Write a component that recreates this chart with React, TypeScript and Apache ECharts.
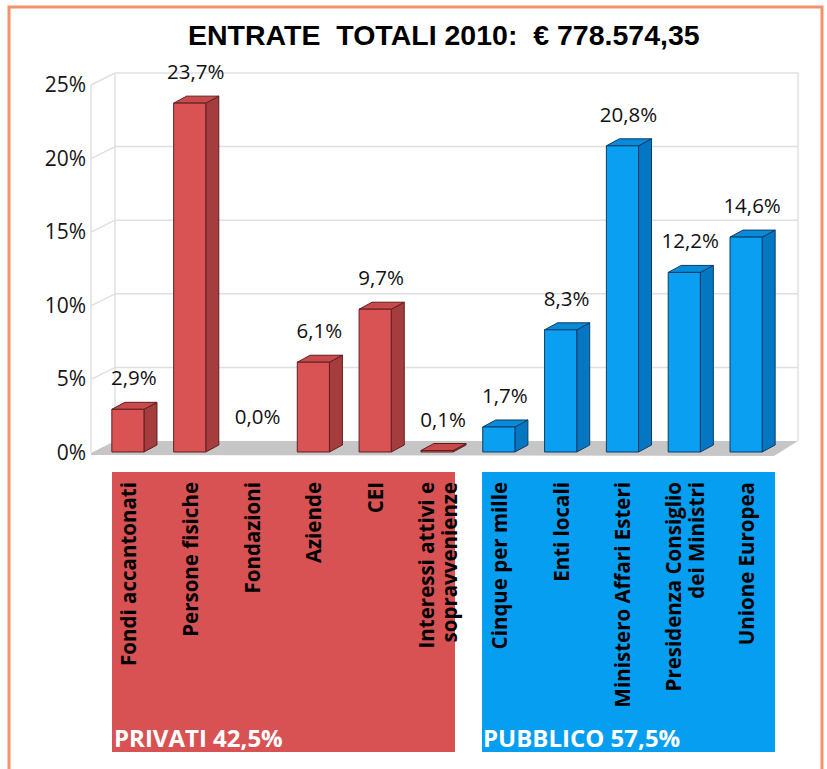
import React, { useEffect, useRef } from "react";
import * as echarts from "echarts";

const titleText = "ENTRATE  TOTALI 2010:  € 778.574,35";
const categories = [
  "Fondi accantonati",
  "Persone fisiche",
  "Fondazioni",
  "Aziende",
  "CEI",
  "Interessi attivi e\nsopravvenienze",
  "Cinque per mille",
  "Enti locali",
  "Ministero Affari Esteri",
  "Presidenza Consiglio\ndei Ministri",
  "Unione Europea",
];
const shares = [2.9, 23.7, 0.0, 6.1, 9.7, 0.1, 1.7, 8.3, 20.8, 12.2, 14.6];
const sectors = [0, 0, 0, 0, 0, 0, 1, 1, 1, 1, 1];
const yTicks = [0, 5, 10, 15, 20, 25];
const groupLabels = ["PRIVATI 42,5%", "PUBBLICO 57,5%"];

const palette = [
  { front: "#d95354", side: "#a53d3e", top: "#c84a4b", stroke: "#5e1f1f", box: "#d85254" },
  { front: "#0a9ff0", side: "#0577c2", top: "#0a8bd9", stroke: "#0c3d66", box: "#069ef0" },
];

const FONT = "'Open Sans', 'Noto Sans', sans-serif";
const fmt = (v: number) => v.toFixed(1).replace(".", ",") + "%";

export default function App() {
  const ref = useRef<HTMLDivElement>(null);
  useEffect(() => {
    document.body.style.margin = "0";
    const chart = echarts.init(ref.current!, null, { renderer: "svg" });
    const barData = shares.map((v, i) => [i, v, sectors[i]]);
    const option: any = {
      animation: false,
      backgroundColor: "#ffffff",
      title: {
        text: titleText,
        left: 183,
        top: 15,
        textStyle: {
          fontFamily: "'Liberation Sans', sans-serif",
          fontWeight: "bold",
          fontSize: 28.5,
          color: "#000",
        },
      },
      grid: { left: 97, width: 680, top: 84, bottom: 769 - 452 },
      xAxis: {
        type: "category",
        data: categories,
        axisLine: { show: false },
        axisTick: { show: false },
        axisLabel: {
          interval: 0,
          rotate: 90,
          margin: 30,
          fontFamily: FONT,
          fontWeight: "bold",
          fontSize: 20.5,
          lineHeight: 23,
          color: "#000",
        },
      },
      yAxis: {
        type: "value",
        min: 0,
        max: 25,
        interval: 5,
        axisLine: { show: false },
        axisTick: { show: false },
        splitLine: { show: false },
        axisLabel: {
          formatter: "{value}%",
          margin: 11,
          fontFamily: FONT,
          fontSize: 21,
          color: "#161616",
          padding: [8, 0, 0, 0],
        },
      },
      graphic: [
        {
          type: "rect",
          shape: { x: 9, y: 7, width: 813, height: 800 },
          style: { fill: "none", stroke: "#f4926a", lineWidth: 3 },
          z: 100,
        },
        {
          type: "rect",
          shape: { x: 112, y: 472, width: 343, height: 280 },
          style: { fill: palette[0].box },
          z: -1,
        },
        {
          type: "rect",
          shape: { x: 482, y: 472, width: 293, height: 280 },
          style: { fill: palette[1].box },
          z: -1,
        },
        {
          type: "text",
          x: 114,
          y: 725,
          style: {
            text: groupLabels[0],
            fill: "#fff",
            font: `bold 24px ${FONT}`,
          },
          z: 10,
        },
        {
          type: "text",
          x: 483,
          y: 725,
          style: {
            text: groupLabels[1],
            fill: "#fff",
            font: `bold 24px ${FONT}`,
          },
          z: 10,
        },
      ],
      series: [
        {
          type: "custom",
          z: 1,
          silent: true,
          data: yTicks.map((t) => [0, t]),
          renderItem: (params: any, api: any) => {
            const cs = params.coordSys;
            const v = api.value(1);
            const fx = cs.x - 6;
            const bx = fx + 24;
            const rx = cs.x + cs.width + 21;
            const yf = api.coord([0, v])[1] + 1;
            const yb = yf - 12;
            const children: any[] = [];
            const lineStyle = { stroke: "#e0e0e0", lineWidth: 1.5 };
            if (v === 0) {
              children.push({
                type: "polygon",
                shape: { points: [[fx, yf], [bx, yb], [rx, yb], [rx - 24, yf + 3], [fx, yf + 2]] },
                style: { fill: "#c6c6c6" },
              });
              const yTop = api.coord([0, 25])[1] + 1;
              children.push({ type: "line", shape: { x1: fx, y1: yf, x2: fx, y2: yTop }, style: lineStyle });
              children.push({ type: "line", shape: { x1: bx, y1: yb, x2: bx, y2: yTop - 12 }, style: lineStyle });
              children.push({ type: "line", shape: { x1: rx, y1: yb, x2: rx, y2: yTop - 12 }, style: lineStyle });
            } else {
              children.push({ type: "line", shape: { x1: fx, y1: yf, x2: bx, y2: yb }, style: lineStyle });
              children.push({ type: "line", shape: { x1: bx, y1: yb, x2: rx, y2: yb }, style: lineStyle });
            }
            return { type: "group", children };
          },
        },
        {
          type: "custom",
          z: 2,
          data: barData,
          renderItem: (params: any, api: any) => {
            const i = api.value(0);
            const v = api.value(1);
            const c = palette[api.value(2)];
            const base = api.coord([i, 0]);
            const top = api.coord([i, v]);
            const bw = api.size([1, 0])[0] * 0.52;
            const x0 = base[0] - bw / 2;
            const x1 = x0 + bw;
            const dx = 13;
            const dy = -7;
            const yb = base[1];
            const yt = top[1];
            const children: any[] = [];
            if (v > 0) {
              children.push({
                type: "polygon",
                shape: { points: [[x1, yb], [x1 + dx, yb + dy], [x1 + dx, yt + dy], [x1, yt]] },
                style: { fill: c.side, stroke: c.stroke, lineWidth: 1 },
              });
              children.push({
                type: "polygon",
                shape: { points: [[x0, yt], [x0 + dx, yt + dy], [x1 + dx, yt + dy], [x1, yt]] },
                style: { fill: c.top, stroke: c.stroke, lineWidth: 1 },
              });
              children.push({
                type: "rect",
                shape: { x: x0, y: yt, width: bw, height: yb - yt },
                style: { fill: c.front, stroke: c.stroke, lineWidth: 1 },
              });
            }
            children.push({
              type: "text",
              x: base[0] + 6,
              y: yt - (v > 0 ? 32 : 36),
              style: {
                text: fmt(v),
                font: `20.5px ${FONT}`,
                fill: "#111",
                align: "center",
                verticalAlign: "middle",
              },
            });
            return { type: "group", children };
          },
        },
      ],
    };
    chart.setOption(option);
    return () => chart.dispose();
  }, []);
  return <div ref={ref} style={{ width: 827, height: 769, position: "absolute", left: 0, top: 0 }} />;
}
